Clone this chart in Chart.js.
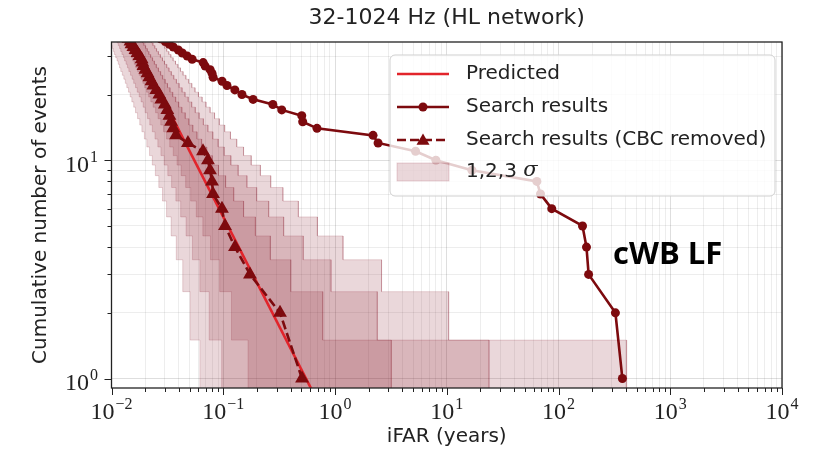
<!DOCTYPE html>
<html>
<head>
<meta charset="utf-8">
<title>iFAR cumulative events</title>
<script src="https://cdn.jsdelivr.net/npm/chart.js@4.4.1/dist/chart.umd.min.js"></script>
<style>
  html, body { margin: 0; padding: 0; background: #fff; }
  #wrap { width: 813px; height: 461px; }
</style>
</head>
<body>
<div id="wrap"><canvas id="ifar-chart" width="813" height="461"></canvas></div>
<script>
// Cumulative number of events vs iFAR, 32-1024 Hz, HL network

// --- search results (all triggers) ---
const searchIfar = [373, 323, 186, 178, 164, 87, 69, 64, 16.8, 8.0, 5.26, 2.43, 2.19, 0.690,
  0.514, 0.504, 0.334, 0.278, 0.185, 0.147, 0.127, 0.108, 0.0976, 0.0811, 0.0794, 0.0763,
  0.0689, 0.0661, 0.0527, 0.0476, 0.0430, 0.0396, 0.0357, 0.0329, 0.0303, 0.0274];
const searchCount = [1, 2, 3, 4, 5, 6, 7, 8, 9, 10, 11, 12, 13, 14, 15, 16, 17, 18, 19, 20,
  21, 22, 23, 24, 25, 26, 27, 28, 29, 30, 31, 32, 33, 34, 35, 36];

// --- search results with CBC events removed ---
const cbcIfar = [0.507, 0.322, 0.1735, 0.1274, 0.1037, 0.0974, 0.0810, 0.0793, 0.0761, 0.0730,
  0.0659, 0.0483, 0.0378, 0.0357, 0.0341, 0.0330, 0.0316, 0.0300, 0.0279, 0.0268, 0.0252,
  0.0237, 0.0228, 0.0218, 0.0210, 0.0201, 0.0193, 0.0189, 0.0186, 0.0178, 0.0171, 0.0164,
  0.0157, 0.0151, 0.0148, 0.0142, 0.0137];
const cbcCount = [1, 2, 3, 4, 5, 6, 7, 8, 9, 10, 11, 12, 13, 14, 15, 16, 17, 18, 19, 20,
  21, 22, 23, 24, 25, 26, 27, 28, 29, 30, 31, 32, 33, 34, 35, 36, 37];

// --- expected background ---
const predictedIfar = [0.0150, 0.62];
const predictedCount = [36.7, 0.887];

// --- 1,2,3 sigma bands: iFAR range for each event count ---
const bandCounts = [1, 2, 3, 4, 5, 6, 7, 8, 9, 10, 11, 12, 13, 14, 15, 16, 17, 18, 19, 20,
  21, 22, 23, 24, 25, 26, 27, 28, 29, 30, 31, 32, 33, 34, 35];
const sigma1Lo = [0.1667, 0.1186, 0.0929, 0.0769, 0.0657, 0.0574, 0.0511, 0.0461, 0.0420, 0.0386,
  0.0357, 0.0332, 0.0311, 0.0292, 0.0276, 0.0261, 0.0248, 0.0236, 0.0225, 0.0215, 0.0206, 0.0198,
  0.0191, 0.0184, 0.0177, 0.0171, 0.0165, 0.0160, 0.0155, 0.0151, 0.0146, 0.0142, 0.0138, 0.0135, 0.0131];
const sigma1Hi = [3.19, 0.777, 0.402, 0.264, 0.194, 0.152, 0.124, 0.105, 0.0907, 0.0798, 0.0711,
  0.0640, 0.0582, 0.0534, 0.0492, 0.0457, 0.0426, 0.0399, 0.0375, 0.0353, 0.0334, 0.0317, 0.0302,
  0.0287, 0.0275, 0.0263, 0.0252, 0.0242, 0.0233, 0.0224, 0.0216, 0.0209, 0.0202, 0.0195, 0.0189];
const sigma2Lo = [0.0968, 0.0748, 0.0618, 0.0530, 0.0465, 0.0416, 0.0377, 0.0345, 0.0319, 0.0296,
  0.0277, 0.0260, 0.0245, 0.0232, 0.0220, 0.0210, 0.0200, 0.0192, 0.0184, 0.0177, 0.0170, 0.0164,
  0.0158, 0.0153, 0.0148, 0.0143, 0.0139, 0.0135, 0.0131, 0.0128, 0.0124, 0.0121, 0.0118, 0.0115, 0.0112];
const sigma2Hi = [23.9, 2.39, 0.922, 0.520, 0.347, 0.255, 0.199, 0.163, 0.136, 0.117, 0.102,
  0.0901, 0.0806, 0.0729, 0.0664, 0.0609, 0.0562, 0.0522, 0.0486, 0.0455, 0.0428, 0.0403, 0.0381,
  0.0361, 0.0343, 0.0327, 0.0312, 0.0298, 0.0286, 0.0274, 0.0263, 0.0253, 0.0244, 0.0235, 0.0227];
const sigma3Lo = [0.0618, 0.0506, 0.0434, 0.0380, 0.0342, 0.0311, 0.0286, 0.0265, 0.0247, 0.0232,
  0.0219, 0.0207, 0.0197, 0.0187, 0.0179, 0.0171, 0.0164, 0.0158, 0.0152, 0.0147, 0.0142, 0.0137,
  0.0133, 0.0129, 0.0125, 0.0121, 0.0118, 0.0115, 0.0112, 0.0109, 0.0106, 0.0104, 0.0102, 0.0099, 0.0097];
const sigma3Hi = [407, 10.4, 2.61, 1.18, 0.696, 0.470, 0.342, 0.266, 0.215, 0.178, 0.152, 0.132,
  0.116, 0.103, 0.0923, 0.0836, 0.0763, 0.0701, 0.0647, 0.0600, 0.0559, 0.0523, 0.0491, 0.0463,
  0.0437, 0.0414, 0.0393, 0.0374, 0.0356, 0.0340, 0.0326, 0.0312, 0.0300, 0.0288, 0.0277];

// --- axes ---
const xMajorTicks = [0.01, 0.1, 1, 10, 100, 1000, 10000];
const yMajorTicks = [1, 10];
const minorSteps = [2, 3, 4, 5, 6, 7, 8, 9];

const SANS = "'DejaVu Sans', sans-serif";
const SERIF = "'Liberation Serif', 'DejaVu Serif', serif";
const DARK_RED = '#7d0a0e';
const PRED_RED = '#e2242b';
const BAND_FILL = 'rgba(130, 20, 35, 0.17)';

// ticks at 1..9 x 10^n inside [min, max]
function logTicks(majors, min, max) {
  const out = [];
  majors.forEach(m => {
    out.push({ value: m, major: true });
    minorSteps.forEach(s => out.push({ value: m * s, major: false }));
  });
  // one decade below the first major for partial ranges
  minorSteps.forEach(s => out.push({ value: majors[0] / 10 * s, major: false }));
  return out.filter(t => t.value >= min * 0.999 && t.value <= max * 1.001)
    .sort((a, b) => a.value - b.value);
}

function zip(xs, ys) {
  return xs.map((x, i) => ({ x: x, y: ys[i] }));
}

// closed staircase outline: left edges going up, right edges coming down
function bandOutline(lo, hi) {
  const pts = [];
  bandCounts.forEach((n, i) => {
    pts.push({ x: lo[i], y: n - 0.5 }, { x: lo[i], y: n + 0.5 });
  });
  for (let i = bandCounts.length - 1; i >= 0; i--) {
    const n = bandCounts[i];
    pts.push({ x: hi[i], y: n + 0.5 }, { x: hi[i], y: n - 0.5 });
  }
  return pts;
}

function bandDataset(lo, hi, label) {
  return {
    label: label,
    data: bandOutline(lo, hi),
    showLine: true,
    fill: 'shape',
    backgroundColor: BAND_FILL,
    borderColor: BAND_FILL,
    borderWidth: 1,
    pointRadius: 0,
    tension: 0,
    clip: 0,
    order: 10
  };
}

const legendEntries = [
  { text: 'Predicted', kind: 'line' },
  { text: 'Search results', kind: 'circle' },
  { text: 'Search results (CBC removed)', kind: 'triangle' },
  { text: '1,2,3 ', sigma: 'σ', kind: 'patch' }
];

function drawTriangle(ctx, x, y, r) {
  ctx.beginPath();
  ctx.moveTo(x, y - r);
  ctx.lineTo(x + r * Math.sin(2 * Math.PI / 3), y - r * Math.cos(2 * Math.PI / 3));
  ctx.lineTo(x + r * Math.sin(4 * Math.PI / 3), y - r * Math.cos(4 * Math.PI / 3));
  ctx.closePath();
  ctx.fill();
}

// frame, tick marks, power-of-ten labels, annotation and legend
const decorations = {
  id: 'decorations',
  afterDatasetsDraw(chart) {
    const { ctx, chartArea: a, scales: { x, y } } = chart;
    ctx.save();

    // tick marks (outside, bottom and left)
    ctx.strokeStyle = '#222';
    ctx.lineWidth = 1;
    x.ticks.forEach(t => {
      const px = Math.round(x.getPixelForValue(t.value)) + 0.5;
      ctx.beginPath();
      ctx.moveTo(px, a.bottom);
      ctx.lineTo(px, a.bottom + (t.major ? 7 : 4));
      ctx.stroke();
    });
    y.ticks.forEach(t => {
      const py = Math.round(y.getPixelForValue(t.value)) + 0.5;
      ctx.beginPath();
      ctx.moveTo(a.left, py);
      ctx.lineTo(a.left - (t.major ? 7 : 4), py);
      ctx.stroke();
    });

    // frame
    ctx.lineWidth = 1.3;
    ctx.strokeRect(a.left, a.top, a.right - a.left, a.bottom - a.top);

    // 10^n labels
    const baseFont = '24px ' + SERIF;
    const expFont = '16px ' + SERIF;
    ctx.fillStyle = '#222';
    ctx.textBaseline = 'alphabetic';
    ctx.textAlign = 'left';
    function powerLabel(v) {
      const e = Math.round(Math.log10(v));
      return e < 0 ? '\u2212' + Math.abs(e) : String(e);
    }
    function measure(exp) {
      ctx.font = baseFont;
      const wb = ctx.measureText('10').width;
      ctx.font = expFont;
      const we = ctx.measureText(exp).width;
      return { wb, we };
    }
    function drawPower(left, baseline, exp, wb) {
      ctx.font = baseFont;
      ctx.fillText('10', left, baseline);
      ctx.font = expFont;
      ctx.fillText(exp, left + wb + 1, baseline - 10);
    }
    x.ticks.filter(t => t.major).forEach(t => {
      const exp = powerLabel(t.value);
      const { wb, we } = measure(exp);
      const px = x.getPixelForValue(t.value);
      drawPower(px - (wb + we + 1) / 2, 419, exp, wb);
    });
    y.ticks.filter(t => t.major).forEach(t => {
      const exp = powerLabel(t.value);
      const { wb, we } = measure(exp);
      const py = y.getPixelForValue(t.value);
      drawPower(98 - (wb + we + 1), py + 11.5, exp, wb);
    });

    // pipeline tag
    ctx.font = "bold 31px 'Open Sans', 'Liberation Sans', sans-serif";
    ctx.fillStyle = '#000';
    ctx.fillText('cWB LF', 613, 264);

    // legend box
    const lx = 390, ly = 55, lw = 385, lh = 141;
    ctx.beginPath();
    ctx.roundRect(lx, ly, lw, lh, 5);
    ctx.fillStyle = 'rgba(255,255,255,0.8)';
    ctx.fill();
    ctx.strokeStyle = '#cfcfcf';
    ctx.lineWidth = 1;
    ctx.stroke();

    const rowY = [74, 107, 140, 172];
    const h0 = 397, h1 = 449, hc = 423;
    legendEntries.forEach((e, i) => {
      const yy = rowY[i];
      ctx.save();
      if (e.kind === 'patch') {
        ctx.fillStyle = BAND_FILL;
        ctx.strokeStyle = BAND_FILL;
        ctx.fillRect(h0, yy - 9, h1 - h0, 18);
        ctx.strokeRect(h0, yy - 9, h1 - h0, 18);
      } else {
        ctx.strokeStyle = e.kind === 'line' ? PRED_RED : DARK_RED;
        ctx.lineWidth = 2.6;
        if (e.kind === 'triangle') ctx.setLineDash([9, 4]);
        ctx.beginPath();
        ctx.moveTo(h0, yy);
        ctx.lineTo(h1, yy);
        ctx.stroke();
        ctx.setLineDash([]);
        ctx.fillStyle = DARK_RED;
        if (e.kind === 'circle') {
          ctx.beginPath();
          ctx.arc(hc, yy, 4.5, 0, Math.PI * 2);
          ctx.fill();
        } else if (e.kind === 'triangle') {
          drawTriangle(ctx, hc, yy + 1, 7.5);
        }
      }
      ctx.restore();
      ctx.fillStyle = '#222';
      ctx.textBaseline = 'middle';
      ctx.font = '20px ' + SANS;
      ctx.fillText(e.text, 466, yy);
      if (e.sigma) {
        const w = ctx.measureText(e.text).width;
        ctx.font = "italic 21px 'DejaVu Serif', serif";
        ctx.fillText(e.sigma, 466 + w, yy - 1);
      }
    });

    ctx.restore();
  }
};

const gridColor = ctx => (ctx.tick && ctx.tick.major) ? 'rgba(0,0,0,0.13)' : 'rgba(0,0,0,0.07)';

const chart = new Chart(document.getElementById('ifar-chart'), {
  type: 'scatter',
  data: {
    datasets: [
      {
        label: 'Search results (CBC removed)',
        data: zip(cbcIfar, cbcCount),
        showLine: true,
        borderColor: DARK_RED,
        backgroundColor: DARK_RED,
        borderWidth: 2.6,
        borderDash: [9, 4],
        pointStyle: 'triangle',
        pointRadius: 8,
        pointBorderWidth: 0,
        clip: 0,
        order: 1
      },
      {
        label: 'Search results',
        data: zip(searchIfar, searchCount),
        showLine: true,
        borderColor: DARK_RED,
        backgroundColor: DARK_RED,
        borderWidth: 2.6,
        pointRadius: 4.5,
        pointBorderWidth: 0,
        clip: 0,
        order: 2
      },
      {
        label: 'Predicted',
        data: zip(predictedIfar, predictedCount),
        showLine: true,
        borderColor: PRED_RED,
        borderWidth: 2.6,
        pointRadius: 0,
        clip: 0,
        order: 3
      },
      bandDataset(sigma1Lo, sigma1Hi, '1 sigma'),
      bandDataset(sigma2Lo, sigma2Hi, '2 sigma'),
      bandDataset(sigma3Lo, sigma3Hi, '3 sigma')
    ]
  },
  options: {
    responsive: false,
    animation: false,
    devicePixelRatio: 1,
    layout: { padding: { left: 0, right: 31, top: 0, bottom: 0 } },
    plugins: {
      legend: { display: false },
      tooltip: { enabled: false },
      title: {
        display: true,
        text: '32-1024 Hz (HL network)',
        fullSize: false,
        color: '#222',
        font: { family: SANS, size: 22, weight: 'normal' },
        padding: { top: 5, bottom: 10.6 }
      }
    },
    scales: {
      x: {
        type: 'logarithmic',
        position: 'bottom',
        min: 0.01,
        max: 10000,
        afterBuildTicks: s => { s.ticks = logTicks(xMajorTicks, 0.01, 10000); },
        afterFit: s => { s.height = 73; },
        ticks: { display: false },
        grid: { color: gridColor, drawTicks: false, lineWidth: 1 },
        border: { display: false },
        title: {
          display: true,
          text: 'iFAR (years)',
          color: '#222',
          font: { family: SANS, size: 20 },
          padding: { top: 0, bottom: 12 }
        }
      },
      y: {
        type: 'logarithmic',
        position: 'left',
        min: 0.905,
        max: 34.8,
        afterBuildTicks: s => { s.ticks = logTicks(yMajorTicks, 0.905, 34.8); },
        afterFit: s => { s.width = 111.5; },
        ticks: { display: false },
        grid: { color: gridColor, drawTicks: false, lineWidth: 1 },
        border: { display: false },
        title: {
          display: true,
          text: 'Cumulative number of events',
          color: '#222',
          font: { family: SANS, size: 20 },
          padding: { top: 29, bottom: 0 }
        }
      }
    }
  },
  plugins: [decorations]
});
</script>
</body>
</html>
